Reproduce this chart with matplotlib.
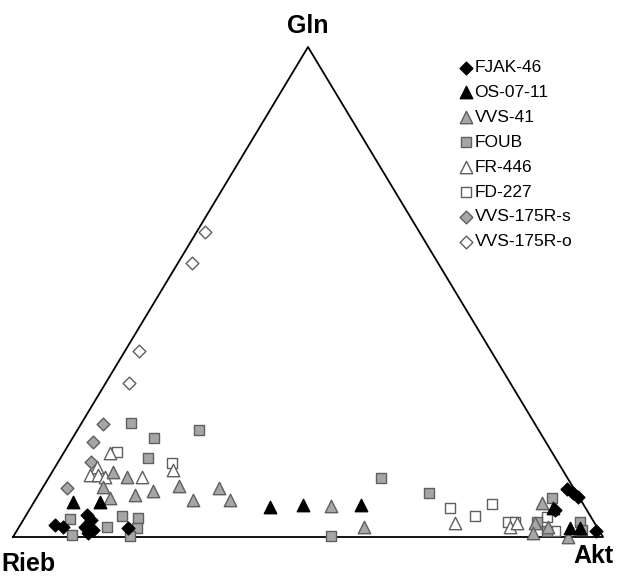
import numpy as np
import matplotlib
matplotlib.use('Agg')
import matplotlib.pyplot as plt

plt.rcParams['font.family'] = ['Liberation Sans', 'DejaVu Sans']

# ternary data, percent (Gln, Akt); Rieb = 100 - Gln - Akt
fjak_gln = [2.4, 2.0, 4.5, 3.5, 2.0, 1.4, 0.8, 1.8, 9.8, 9.0, 8.2, 1.2, 5.5]
fjak_akt = [5.9, 7.5, 10.3, 11.5, 11.2, 12.9, 12.3, 18.6, 89.0, 90.4, 91.7, 98.2, 89.1]

os_gln = [7.1, 7.1, 6.1, 6.5, 6.5, 5.9, 1.8, 1.8]
os_akt = [6.6, 11.2, 40.5, 45.9, 55.7, 88.6, 93.5, 95.2]

vvs41_gln = [10.2, 8.0, 13.3, 12.2, 8.6, 9.4, 10.4, 7.6, 10.0, 7.6, 6.3, 2.0, 6.9, 2.9, 2.0, 0.0, 0.8]
vvs41_akt = [10.2, 12.4, 10.3, 13.2, 16.4, 19.0, 22.9, 26.7, 29.9, 33.0, 50.8, 58.5, 86.2, 87.0, 89.7, 94.1, 87.7]

foub_gln = [23.3, 20.2, 21.8, 16.1, 3.7, 0.4, 2.0, 4.3, 3.9, 1.8, 0.2, 12.0, 9.0, 0.2, 8.0, 3.1, 1.2, 3.1, 1.4]
foub_akt = [8.3, 13.8, 20.6, 14.8, 7.8, 9.8, 14.9, 16.3, 19.2, 20.1, 19.7, 56.4, 66.0, 53.8, 87.4, 87.3, 89.9, 94.6, 95.7]

fr_gln = [17.1, 14.3, 12.7, 12.7, 12.2, 12.2, 13.7, 2.9, 2.0, 2.9]
fr_akt = [7.9, 7.1, 6.7, 8.1, 9.5, 15.8, 20.3, 73.5, 83.2, 84.0]

fd_gln = [17.3, 15.1, 5.9, 4.3, 6.7, 3.1, 3.1, 4.1, 1.2]
fd_akt = [9.0, 19.4, 71.1, 76.2, 77.8, 82.3, 83.5, 88.5, 91.3]

r175s_gln = [23.1, 19.4, 15.3, 10.0]
r175s_akt = [3.7, 3.9, 5.6, 4.2]

r175o_gln = [62.2, 55.9, 38.0, 31.4]
r175o_akt = [1.4, 2.4, 2.4, 4.0]


def tern(gln, akt):
    g = np.array(gln) / 100.0
    a = np.array(akt) / 100.0
    return a + g / 2.0, g


fig = plt.figure(figsize=(6.18, 5.77), dpi=100)
ax = fig.add_axes([0, 0, 1, 1])
ax.set_xlim(-13 / 590, 605 / 590)
ax.set_ylim(-40 / 490, 537 / 490)
ax.axis('off')

# triangle frame
ax.plot([0, 1, 0.5, 0], [0, 0, 1, 0], color='black', lw=1.3, zorder=1)

grey = '#a6a6a6'
edge = '#5f5f5f'
series = [
    ('FJAK-46', fjak_gln, fjak_akt, 'D', 'black', 'black', 42),
    ('OS-07-11', os_gln, os_akt, '^', 'black', 'black', 80),
    ('VVS-41', vvs41_gln, vvs41_akt, '^', grey, edge, 80),
    ('FOUB', foub_gln, foub_akt, 's', grey, edge, 60),
    ('FR-446', fr_gln, fr_akt, '^', 'white', edge, 80),
    ('FD-227', fd_gln, fd_akt, 's', 'white', edge, 60),
    ('VVS-175R-s', r175s_gln, r175s_akt, 'D', grey, edge, 42),
    ('VVS-175R-o', r175o_gln, r175o_akt, 'D', 'white', edge, 42),
]

handles = []
for i, (name, g, a, m, fc, ec, s) in enumerate(series):
    x, y = tern(g, a)
    h = ax.scatter(x, y, marker=m, s=s, facecolor=fc, edgecolor=ec,
                   linewidth=1.0, zorder=10 - i, label=name, clip_on=False)
    handles.append(h)

ax.legend(handles=handles, loc='upper left', bbox_to_anchor=(458 / 618, 1 - 60 / 577),
          frameon=False, fontsize=12.5, handletextpad=0.05, labelspacing=0.56,
          handlelength=0.9, borderaxespad=0, borderpad=0, markerscale=1.0)

ax.text(0.5, 504 / 490, 'Gln', ha='center', va='baseline', fontsize=18, fontweight='bold')
ax.text(-12 / 590, -34 / 490, 'Rieb', ha='left', va='baseline', fontsize=18, fontweight='bold')
ax.text(1 - 30 / 590, -26 / 490, 'Akt', ha='left', va='baseline', fontsize=18, fontweight='bold')

fig.savefig('out.png', dpi=100)
